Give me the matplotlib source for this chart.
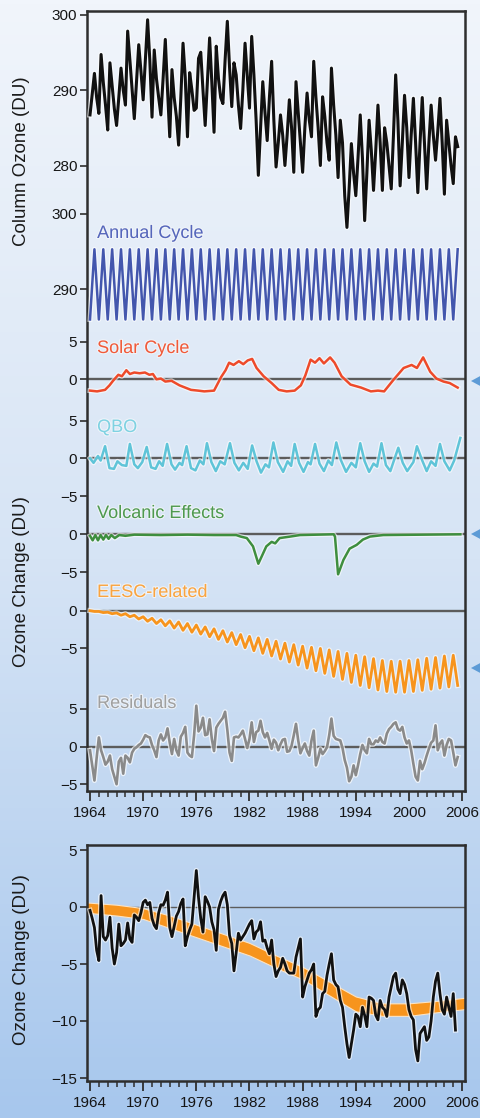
import numpy as np
import matplotlib
matplotlib.use('Agg')
import matplotlib.pyplot as plt
import matplotlib.patheffects as pe
from matplotlib.colors import LinearSegmentedColormap
from matplotlib.patches import Polygon
from matplotlib.ticker import MultipleLocator

plt.rcParams['font.family'] = ['Liberation Sans', 'DejaVu Sans']

# ---- data ----
# quarterly column ozone 60S-60N (DU), 1964.0 onwards
column_ozone = [
    286.7, 289.5, 292.2, 289.0,  286.9, 294.7, 291.0, 288.0,  284.7, 293.6, 290.5, 287.5,
    285.3, 289.0, 292.9, 290.0,  288.0, 297.8, 294.0, 290.0,  286.2, 291.0, 296.0, 292.5,
    288.7, 294.0, 299.3, 294.0,  286.4, 295.3, 291.5, 289.0,  286.7, 291.5, 296.7, 290.0,
    283.8, 292.7, 289.0, 286.5,  282.7, 289.0, 296.2, 291.7,  283.8, 292.3, 290.0, 287.3,
    287.6, 294.2, 295.0, 290.0,  285.3, 291.0, 296.9, 291.0,  284.4, 295.8, 291.5, 289.0,
    288.2, 294.0, 299.1, 293.0,  287.8, 293.6, 292.0, 288.0,  284.9, 290.0, 296.2, 292.0,
    287.6, 297.1, 292.0, 286.0,  278.7, 285.0, 291.1, 287.0,  283.3, 289.0, 293.8, 286.0,
    279.8, 283.0, 286.7, 284.0,  280.0, 284.0, 288.7, 285.0,  279.1, 291.1, 287.0, 283.0,
    279.1, 285.0, 289.6, 286.0,  283.8, 293.8, 289.0, 285.0,  280.0, 289.1, 286.5, 283.0,
    280.7, 292.9, 288.0, 284.0,  278.4, 286.0, 283.0, 276.0,  271.8, 277.0, 282.9, 279.0,
    276.0, 281.0, 286.7, 281.0,  272.7, 279.0, 286.0, 282.0,  276.7, 282.0, 288.0, 283.0,
    276.7, 285.0, 283.0, 280.0,  276.9, 284.0, 292.0, 286.0,  277.3, 283.0, 289.3, 285.0,
    278.4, 284.0, 288.9, 283.0,  276.4, 283.0, 289.0, 283.0,  276.9, 283.0, 288.0, 284.0,
    280.7, 284.5, 288.9, 283.0,  276.2, 286.0, 283.0, 280.0,  277.6, 283.8, 282.5,
]

# half-yearly fitted annual cycle (DU)
annual_cycle = [
    286.0, 295.3, 286.0, 295.3, 286.0, 295.3, 286.0, 295.3, 286.0, 295.3, 286.0, 295.3,
    286.0, 295.3, 286.0, 295.3, 286.0, 295.3, 286.0, 295.3, 286.0, 295.3, 286.0, 295.3,
    286.0, 295.3, 286.0, 295.3, 286.0, 295.3, 286.0, 295.3, 286.0, 295.3, 286.0, 295.3,
    286.0, 295.3, 286.0, 295.3, 286.0, 295.3, 286.0, 295.3, 286.0, 295.3, 286.0, 295.3,
    286.0, 295.3, 286.0, 295.3, 286.0, 295.3, 286.0, 295.3, 286.0, 295.3, 286.0, 295.3,
    286.0, 295.3, 286.0, 295.3, 286.0, 295.3, 286.0, 295.3, 286.0, 295.3, 286.0, 295.3,
    286.0, 295.3, 286.0, 295.3, 286.0, 295.3, 286.0, 295.3, 286.0, 295.3, 286.0, 295.3,
]

# (year, DU) turning points
solar_cycle = [
    (1964.0, -1.5), (1964.8, -1.6), (1965.7, -1.4), (1966.2, -0.8), (1966.6, -0.2),
    (1967.2, 0.6), (1967.6, 0.4), (1968.1, 1.2), (1968.5, 0.7), (1969.0, 0.9),
    (1969.6, 0.8), (1970.2, 0.9), (1970.7, 0.6), (1971.1, 0.7), (1971.5, 0.0),
    (1972.0, 0.1), (1972.5, -0.3), (1973.2, -0.2), (1974.1, -0.8), (1975.4, -1.4),
    (1976.2, -1.5), (1976.9, -1.6), (1978.0, -1.5), (1978.8, 0.3), (1979.3, 1.2),
    (1979.7, 2.2), (1980.2, 1.9), (1980.8, 2.4), (1981.3, 2.0), (1981.8, 2.5),
    (1982.3, 2.7), (1982.8, 1.5), (1983.6, 0.4), (1984.5, -0.5), (1985.3, -1.4),
    (1986.2, -1.6), (1987.1, -1.5), (1987.8, -0.8), (1988.3, 0.5), (1988.9, 2.6),
    (1989.4, 2.2), (1989.9, 2.8), (1990.4, 2.1), (1991.1, 2.9), (1991.6, 2.2),
    (1992.4, 0.4), (1993.4, -0.7), (1994.6, -1.1), (1995.7, -1.6), (1996.5, -1.5),
    (1997.2, -1.6), (1998.3, 0.0), (1999.4, 1.5), (2000.3, 1.9), (2000.9, 1.5),
    (2001.6, 2.9), (2002.4, 1.0), (2003.1, 0.1), (2003.9, -0.3), (2004.6, -0.5),
    (2005.5, -1.1),
]

qbo = [
    (1964.0, 0.0), (1964.4, -0.6), (1964.9, 0.3), (1965.2, -0.3), (1965.7, 1.6),
    (1966.2, -1.3), (1966.7, -1.4), (1967.1, -0.4), (1967.6, -0.9), (1968.1, -1.0),
    (1968.5, 1.9), (1969.0, -0.8), (1969.4, -1.3), (1969.9, -0.5), (1970.4, 1.5),
    (1970.9, -1.2), (1971.4, -1.4), (1971.8, -0.4), (1972.2, -1.0), (1972.7, 1.9),
    (1973.2, -0.8), (1973.6, -1.5), (1974.1, -0.6), (1974.4, -0.9), (1974.9, 1.6),
    (1975.4, -1.3), (1975.9, -1.6), (1976.4, -0.3), (1976.8, -0.8), (1977.2, 2.0),
    (1977.7, -0.5), (1978.2, -1.7), (1978.7, -0.4), (1979.2, -0.8), (1979.8, 2.0),
    (1980.3, -0.6), (1980.8, -1.6), (1981.3, -0.6), (1981.8, -1.4), (1982.3, 1.7),
    (1982.8, -0.4), (1983.3, -1.9), (1983.8, -0.8), (1984.2, -1.2), (1984.7, 2.1),
    (1985.2, -0.5), (1985.8, -1.8), (1986.3, -0.4), (1986.7, -1.0), (1987.1, 1.9),
    (1987.6, -0.6), (1988.1, -1.8), (1988.6, -0.5), (1988.9, -0.8), (1989.4, 1.9),
    (1989.9, -0.7), (1990.4, -1.7), (1990.9, -0.3), (1991.3, -0.9), (1991.8, 2.1),
    (1992.3, -0.2), (1992.9, -1.8), (1993.5, -0.6), (1994.0, -1.2), (1994.5, 2.0),
    (1995.0, -0.4), (1995.5, -1.8), (1996.0, -0.7), (1996.4, -1.1), (1996.9, 2.0),
    (1997.4, -0.9), (1997.9, -1.7), (1998.3, -0.3), (1998.8, 1.4), (1999.3, -0.6),
    (1999.8, -1.7), (2000.5, -0.5), (2000.9, 1.6), (2001.5, -0.3), (2002.0, -1.7),
    (2002.5, -0.4), (2003.0, -1.0), (2003.5, 1.9), (2004.0, -0.4), (2004.6, -1.6),
    (2005.1, -0.3), (2005.8, 2.7),
]

volcanic = [
    (1964.0, -0.2), (1964.3, -0.8), (1964.6, -0.1), (1964.9, -0.8), (1965.2, -0.1),
    (1965.5, -0.7), (1965.8, -0.1), (1966.1, -0.6), (1966.4, -0.1), (1966.8, -0.5),
    (1967.3, -0.1), (1968.0, -0.2), (1969.0, -0.05), (1972.0, -0.1), (1975.0, -0.05),
    (1978.0, -0.1), (1980.5, -0.1), (1981.0, -0.3), (1981.7, -0.5), (1982.4, -1.6),
    (1983.0, -3.9), (1983.9, -1.6), (1984.5, -1.0), (1984.9, -1.2), (1985.4, -0.5),
    (1986.6, -0.3), (1987.7, -0.1), (1991.5, 0.0), (1991.65, -0.3), (1992.0, -5.3),
    (1992.6, -3.4), (1993.3, -1.9), (1994.1, -1.4), (1994.5, -1.0), (1994.8, -0.7),
    (1995.6, -0.3), (1997.1, -0.1), (2005.8, 0.0),
]

# half-yearly EESC-related term (DU)
eesc_related = [
    0.0, -0.1, -0.1, -0.25, -0.2, -0.4, -0.3, -0.6, -0.4, -0.8, -0.6, -1.1,
    -0.8, -1.4, -1.0, -1.7, -1.2, -2.0, -1.35, -2.3, -1.5, -2.6, -1.7, -2.85,
    -1.9, -3.1, -2.15, -3.45, -2.4, -3.8, -2.65, -4.15, -2.9, -4.5, -3.15, -4.9,
    -3.4, -5.3, -3.6, -5.65, -3.8, -6.0, -4.05, -6.4, -4.3, -6.8, -4.5, -7.2,
    -4.7, -7.6, -4.85, -7.95, -5.0, -8.3, -5.2, -8.7, -5.4, -9.1, -5.65, -9.5,
    -5.9, -9.9, -6.1, -10.2, -6.35, -10.5, -6.6, -10.7, -6.7, -10.8, -6.7, -10.8,
    -6.6, -10.7, -6.5, -10.55, -6.3, -10.4, -6.2, -10.25, -6.0, -10.1, -5.9, -9.9,
]

# quarterly residuals (DU)
residuals = [
    -0.5, -2.5, -4.5, -1.5,  1.2, -0.5, -1.4, -2.4,  -2.0, -1.2, -3.0, -4.0,
    -5.0, -2.0, -1.5, -3.6,  -1.2, -1.5, -2.1, -0.8,  -0.3, -0.1, 0.2, 0.4,
    0.9, 1.5, 1.3, 1.2,  0.2, -0.5, -1.4, 0.8,  1.6, 0.8, 1.2, 2.4,
    0.5, -1.0, 1.0, -0.5,  -1.2, 1.3, 1.8, 2.6,  -0.8, -1.2, -1.4, 1.5,
    5.4, 2.0, 2.5, 3.8,  1.5, 1.6, 3.6, 1.0,  -0.6, 2.5, 3.0, 3.4,
    3.8, 4.6, 2.2, -0.8,  -1.9, 1.2, 1.3, 1.2,  1.6, 2.1, 1.0, -0.2,
    1.0, 3.2, 0.6, 1.9,  2.1, 3.4, 1.9, 1.2,  1.8, 0.8, -0.3, 0.9,
    0.5, -0.5, 0.3, 0.9,  1.0, -0.7, -0.6, 0.1,  1.5, 3.0, 0.8, -0.9,
    -0.2, 0.4, -0.6, -1.2,  0.8, 2.1, -2.5, -1.5,  -0.3, -1.0, -0.6, -0.1,
    1.5, 3.7, 1.4, 1.0,  0.9, 0.8, -0.2, -1.8,  -2.8, -4.6, -4.0, -2.5,
    -3.8, -2.5, -1.0, 0.2,  -0.5, -0.9, 1.0, 0.3,  0.3, 0.8, 0.6, 1.2,
    0.6, 0.4, 1.7, 2.3,  2.6, 3.0, 3.2, 2.3,  2.1, 2.6, 1.2, 0.4,
    0.8, -0.5, -2.3, -4.0,  -4.5, -1.9, -3.0, -2.2,  -1.2, -0.3, 0.5, 0.8,
    2.8, -0.5, 0.4, 0.8,  -1.2, 0.2, 1.0, 0.8,  -0.8, -2.5, -1.4,
]

# bottom panel: quarterly ozone change (DU)
ozone_change = [
    -0.3, -1.0, -1.8, -3.8,  -4.7, 1.0, -2.6, -2.9,  -2.5, -0.9, -3.6, -5.0,
    -4.0, -1.5, -3.4, -3.2,  -2.9, -1.4, -2.8, -3.1,  -0.7, -0.9, -1.2, -0.5,
    0.4, 0.6, 0.2, 0.4,  -1.0, -1.6, -1.9, -0.5,  0.2, 0.15, 0.6, 1.3,
    -1.8, -2.6, -1.7, -0.8,  -0.4, 0.3, 0.7, -3.4,  -2.6, -2.0, -1.5, 0.8,
    3.2, 0.8, -1.0, -2.2,  0.9, 0.5, 0.0, -1.3,  -2.0, -3.8, -0.2, 0.5,
    1.0, 1.3, 0.2, -2.5,  -3.2, -5.6, -4.0, -2.3,  -2.9, -2.6, -2.3, -1.9,
    -1.5, -1.2, -2.8, -2.2,  -2.0, -1.3, -3.0, -2.9,  -3.6, -4.1, -2.9, -5.0,
    -6.1, -5.6, -5.3, -4.5,  -5.0, -5.6, -5.8, -5.8,  -5.8, -4.4, -3.6, -2.8,
    -7.9, -7.0, -6.4, -5.8,  -5.5, -5.0, -9.6, -9.0,  -8.8, -7.6, -7.4, -6.0,
    -5.0, -4.1, -6.4, -6.8,  -7.0, -8.2, -8.8, -10.5,  -12.0, -13.2, -12.0, -10.8,
    -9.4, -9.6, -10.5, -8.8,  -9.5, -10.5, -7.9, -8.0,  -8.2, -9.5, -9.9, -8.2,
    -8.8, -9.0, -9.6, -7.9,  -7.0, -6.1, -5.8, -7.2,  -7.6, -6.4, -6.8, -7.6,
    -9.0, -9.6, -9.9, -12.5,  -13.5, -11.1, -10.8, -10.5,  -11.7, -11.4, -10.0, -7.9,
    -6.5, -5.8, -7.6, -9.0,  -9.4, -7.9, -8.8, -9.6,  -7.6, -10.8,
]

# orange EESC band in the bottom panel
band_years = [1963.6, 1967, 1970, 1973, 1976, 1979, 1982, 1985, 1988, 1991, 1994, 1997, 2000, 2003, 2006.4]
band_upper = [0.4, 0.2, -0.1, -0.75, -1.55, -2.35, -3.15, -4.25, -5.25, -6.55, -7.85, -8.45, -8.45, -8.25, -7.95]
band_lower = [-0.5, -0.75, -1.05, -1.85, -2.65, -3.45, -4.25, -5.35, -6.35, -7.75, -9.15, -9.55, -9.55, -9.25, -8.95]

year_ticks = list(range(1964, 2007, 6))

# ---- layout helpers (pixel geometry of the original) ----
W, H = 481, 1118
PX_PER_DU = 7.55
ZERO_PX = 746.5


def stack(px):
    # pixel row in the top panel -> stacked data coordinate
    return (ZERO_PX - px) / PX_PER_DU


def box(left, top, right, bottom):
    return [left / W, 1 - bottom / H, (right - left) / W, (bottom - top) / H]


off = {
    'column': stack(90) - 290,
    'annual': stack(289.3) - 290,
    'solar': stack(379.3),
    'qbo': stack(458.3),
    'volcanic': stack(534.3),
    'eesc': stack(610.7),
    'resid': 0.0,
}

colors = {
    'column': '#111111', 'annual': '#4356ad', 'solar': '#ee4a2a',
    'qbo': '#5fc4d8', 'volcanic': '#3e8e3e', 'eesc': '#f7941d', 'resid': '#8a8a8a',
}
label_colors = {
    'annual': '#5566bb', 'solar': '#f05a3a', 'qbo': '#7fd2e2',
    'volcanic': '#4f9a4f', 'eesc': '#f9a440', 'resid': '#a0a0a0',
}
frame_color = '#2e2e2e'
fs_tick = 11
fs_label = 13.5


def halo(lw, alpha=0.6):
    return [pe.Stroke(linewidth=lw + 1.8, foreground='white', alpha=alpha), pe.Normal()]


def quarterly(series, step=0.25):
    return 1964 + step * np.arange(len(series))


fig = plt.figure(figsize=(W / 100, H / 100), dpi=100)

# background gradient
bg = fig.add_axes([0, 0, 1, 1], zorder=-10)
bg_cmap = LinearSegmentedColormap.from_list('bg', ['#f1f5fb', '#d6e4f5', '#a7c7ed'])
bg.imshow(np.linspace(0, 1, 256)[:, None], aspect='auto', cmap=bg_cmap, extent=[0, 1, 0, 1])
bg.axis('off')

# ---- top panel: stacked components ----
ax = fig.add_axes(box(87, 11, 465, 791))
ax.patch.set_alpha(0)

for key in ['solar', 'qbo', 'volcanic', 'eesc', 'resid']:
    ax.axhline(off[key], color='#5c5c5c', linewidth=1.7, zorder=1)

ax.plot(quarterly(column_ozone), np.array(column_ozone) + off['column'],
        color=colors['column'], linewidth=2.2, path_effects=halo(2.2), zorder=3)
ax.plot(quarterly(annual_cycle, 0.5), np.array(annual_cycle) + off['annual'],
        color=colors['annual'], linewidth=1.8, path_effects=halo(1.8), zorder=3)
for key, knots in [('solar', solar_cycle), ('qbo', qbo), ('volcanic', volcanic)]:
    yrs, vals = zip(*knots)
    ax.plot(yrs, np.array(vals) + off[key], color=colors[key], linewidth=1.8,
            path_effects=halo(1.8), zorder=3)
ax.plot(quarterly(eesc_related, 0.5), np.array(eesc_related) + off['eesc'],
        color=colors['eesc'], linewidth=2.0, path_effects=halo(2.0), zorder=3)
ax.plot(quarterly(residuals), np.array(residuals) + off['resid'],
        color=colors['resid'], linewidth=1.9, path_effects=halo(1.9, 0.7), zorder=3)

labels = [
    ('annual', 'Annual Cycle', 238), ('solar', 'Solar Cycle', 353), ('qbo', 'QBO', 432),
    ('volcanic', 'Volcanic Effects', 518), ('eesc', 'EESC-related', 597),
    ('resid', 'Residuals', 708),
]
for key, text, base_px in labels:
    ax.text(1964.8, stack(base_px), text, color=label_colors[key], fontsize=13,
            va='baseline', ha='left', zorder=4,
            path_effects=[pe.withStroke(linewidth=1.6, foreground='#f4f7fb', alpha=0.8)])

tick_spec = [
    ('column', [300, 290, 280]), ('annual', [300, 290]), ('solar', [5, 0]),
    ('qbo', [5, 0, -5]), ('volcanic', [0, -5]), ('eesc', [0, -5]), ('resid', [5, 0, -5]),
]
ypos, ylab = [], []
for key, vals in tick_spec:
    for v in vals:
        ypos.append(v + off[key])
        ylab.append(str(v).replace('-', '\u2212'))
ax.set_yticks(ypos)
ax.set_yticklabels(ylab)
ax.set_ylim(stack(791), stack(11))

# ---- bottom panel ----
ax2 = fig.add_axes(box(87, 845, 465, 1081))
ax2.patch.set_alpha(0)
ax2.axhline(0, color='#5c5c5c', linewidth=1.0, zorder=1)
ax2.fill_between(band_years, band_lower, band_upper, facecolor='#f7941d',
                 edgecolor='#fbe3c4', linewidth=0.8, zorder=2)
ax2.plot(quarterly(ozone_change), ozone_change, color='#111111', linewidth=2.0,
         path_effects=halo(2.0), zorder=3)
ax2.set_yticks([5, 0, -5, -10, -15])
ax2.set_yticklabels(['5', '0', '\u22125', '\u221210', '\u221215'])
ax2.set_ylim((1081 - 1078) / -11.4 - 15, 5 + (850 - 845) / 11.4)

for a in (ax, ax2):
    a.set_xlim(1964 - 3 / 8.86, 1964 + 375 / 8.86)
    a.set_xticks(year_ticks)
    a.set_xticklabels([str(y) for y in year_ticks])
    a.xaxis.set_minor_locator(MultipleLocator(1))
    a.tick_params(axis='x', which='major', length=7, width=1.3, pad=4,
                  labelsize=fs_tick, colors=frame_color, labelcolor='#151515')
    a.tick_params(axis='x', which='minor', length=4, width=1.1, colors=frame_color)
    a.tick_params(axis='y', length=5, width=1.2, pad=2, labelsize=fs_tick,
                  colors=frame_color, labelcolor='#151515')
    for s in a.spines.values():
        s.set_color(frame_color)
        s.set_linewidth(1.8)

# axis titles
fig.text(22 / W, 1 - 161 / H, 'Column Ozone (DU)', rotation=90, ha='center',
         va='center', fontsize=fs_label, color='#1a1a1a')
fig.text(22 / W, 1 - 582 / H, 'Ozone Change (DU)', rotation=90, ha='center',
         va='center', fontsize=fs_label, color='#1a1a1a')
fig.text(22 / W, 1 - 960 / H, 'Ozone Change (DU)', rotation=90, ha='center',
         va='center', fontsize=fs_label, color='#1a1a1a')

# pointer triangles on the right edge
for yc in [381, 534, 668]:
    tri = [(471 / W, 1 - yc / H), (497 / W, 1 - (yc - 14) / H), (497 / W, 1 - (yc + 14) / H)]
    fig.add_artist(Polygon(tri, closed=True, transform=fig.transFigure,
                           facecolor='#5d9bd6', edgecolor='none'))

fig.savefig('out.png', dpi=100)
